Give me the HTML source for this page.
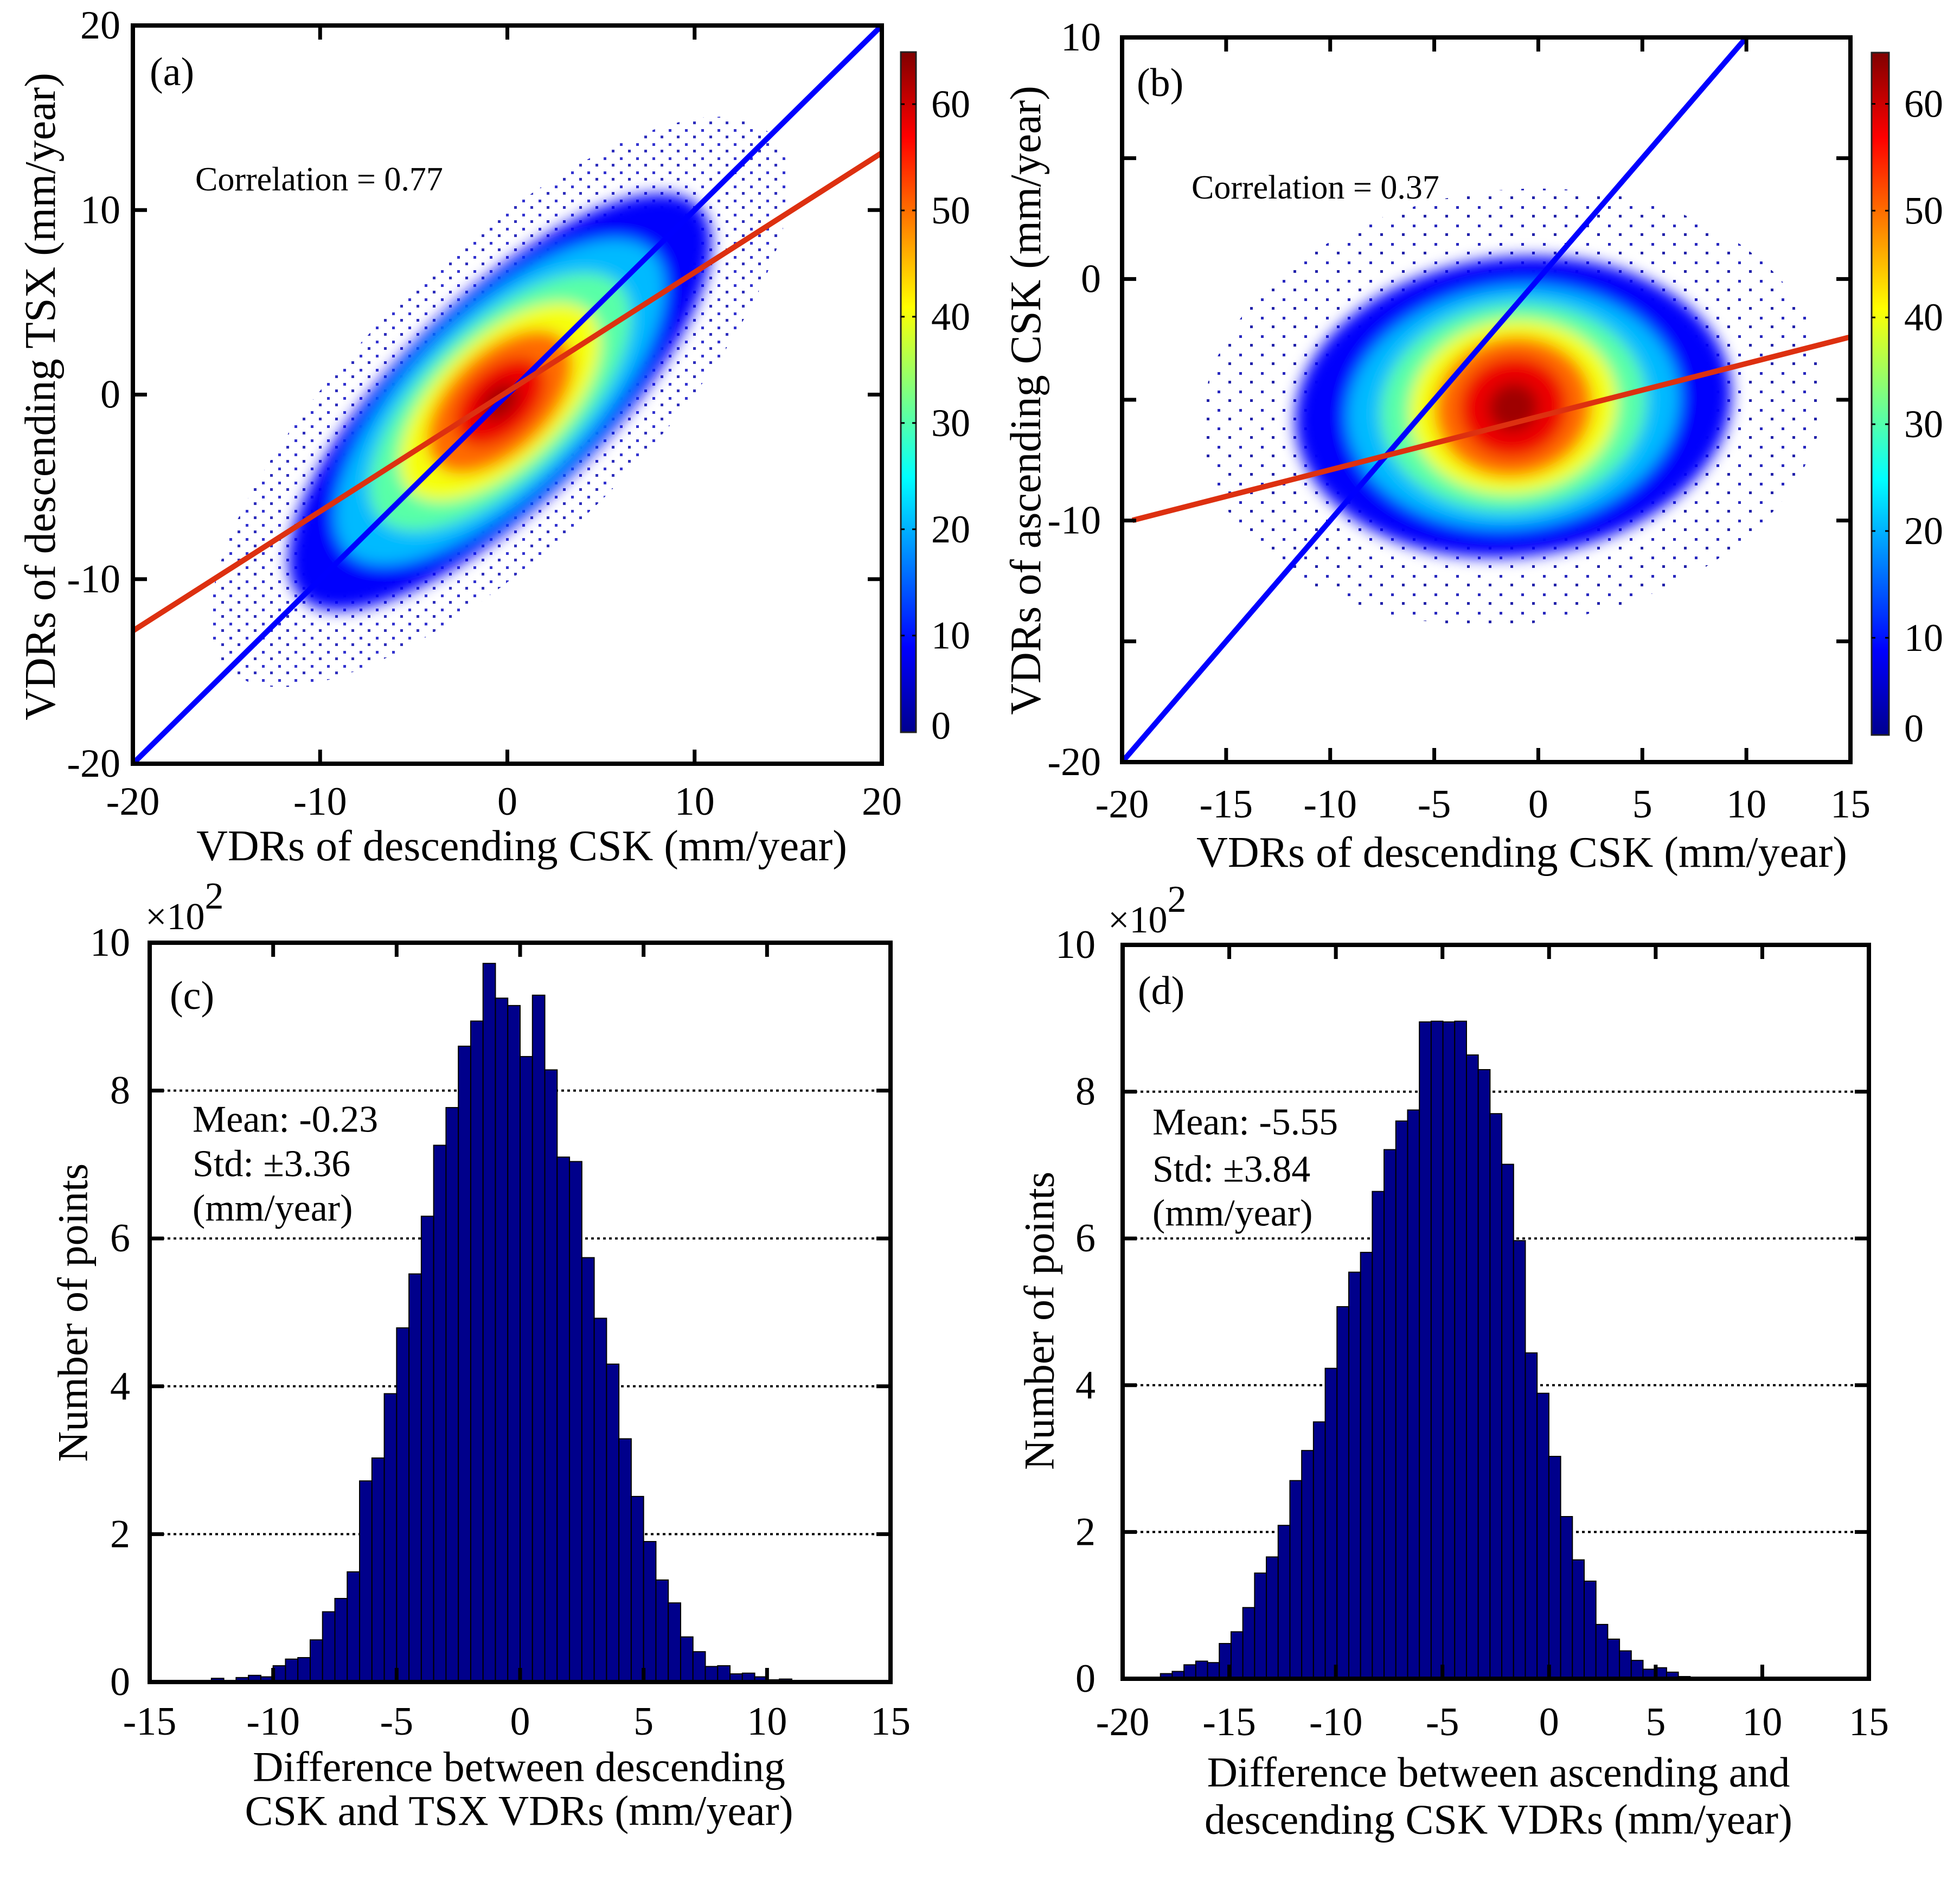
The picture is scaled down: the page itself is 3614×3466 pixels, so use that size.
<!DOCTYPE html>
<html><head><meta charset="utf-8">
<style>
html,body{margin:0;padding:0;background:#fff;}
svg, svg text{font-family:"Liberation Serif","DejaVu Serif",serif;}
</style></head>
<body>
<svg id="fig" xmlns="http://www.w3.org/2000/svg" width="3614" height="3461" viewBox="0 0 3614 3461">
<defs>
<pattern id="dotsA" width="30" height="26" patternUnits="userSpaceOnUse">
<rect x="3" y="4" width="5" height="5" fill="#1010c8"/><rect x="18" y="16" width="5" height="5" fill="#0a0ab0"/>
</pattern>
<pattern id="dotsB" width="40" height="34" patternUnits="userSpaceOnUse">
<rect x="5" y="6" width="5" height="5" fill="#1010b8"/><rect x="25" y="22" width="5" height="5" fill="#0a0aa0"/>
</pattern>
<filter id="blur" x="-20%" y="-20%" width="140%" height="140%"><feGaussianBlur stdDeviation="14"/></filter>
<linearGradient id="jet" x1="0" y1="1" x2="0" y2="0">
<stop offset="0" stop-color="#00008f"/><stop offset="0.125" stop-color="#0000ff"/>
<stop offset="0.375" stop-color="#00ffff"/><stop offset="0.625" stop-color="#ffff00"/>
<stop offset="0.875" stop-color="#ff0000"/><stop offset="1" stop-color="#800000"/>
</linearGradient>
</defs>
</svg>
<script>
// ---------- data ----------
const aLevels = [8, 20, 30, 40, 50, 58, 63];
const aMajor  = [15, 11.5, 9, 6.8, 4.8, 2.9, 1.2];
const aMinor  = [5.5, 4.8, 4.1, 3.4, 2.7, 1.8, 0.8];
const aCenter = [-0.4, -0.4];
const aHalo = [20.5, 7.6];
const aFit = [0.6475, 0.15];
const aCorr = "Correlation = 0.77";
const bLevels = [8, 20, 30, 40, 50, 58, 63];
const bRx = [10.5, 8.0, 6.4, 5.0, 3.8, 2.6, 1.2];
const bRy = [6.2, 5.0, 4.3, 3.6, 2.9, 2.1, 1.0];
const bCenter = [-1.2, -5.3];
const bHalo = [15, 9];
const bFit = [0.22, -5.7];
const bCorr = "Correlation = 0.37";
const cbTicks = [0, 10, 20, 30, 40, 50, 60];
const cStart = -12.5, cWidth = 0.5;
const cCounts = [0.05,0.02,0.06,0.09,0.07,0.22,0.31,0.33,0.57,0.95,1.13,1.49,2.72,3.03,3.90,4.79,5.52,6.30,7.26,7.77,8.60,8.94,9.72,9.25,9.15,8.46,9.29,8.28,7.10,7.04,5.74,4.92,4.30,3.29,2.51,1.90,1.38,1.07,0.61,0.41,0.21,0.22,0.11,0.12,0.07,0.03,0.04,0.02];
const dStart = -19.33, dWidth = 0.552;
const dCounts = [0.01,0.01,0.07,0.10,0.19,0.24,0.22,0.48,0.64,0.97,1.44,1.66,2.09,2.70,3.11,3.50,4.23,5.07,5.54,5.81,6.64,7.21,7.60,7.75,8.95,8.96,8.95,8.96,8.50,8.30,7.70,7.01,5.97,4.44,3.89,3.03,2.21,1.62,1.33,0.74,0.54,0.38,0.25,0.13,0.15,0.09,0.03,0.02];
const histYTicks = [0,2,4,6,8,10];
const cXTicks = [-15,-10,-5,0,5,10,15];
const dXTicks = [-20,-15,-10,-5,0,5,10,15];

// ---------- helpers ----------
const NS = "http://www.w3.org/2000/svg";
const FONT = '"Liberation Serif","DejaVu Serif",serif';
const svg = document.getElementById('fig');
function el(tag, attrs, parent){const e=document.createElementNS(NS,tag);for(const k in attrs)e.setAttribute(k,attrs[k]);(parent||svg).appendChild(e);return e;}
function lin(d0,d1,p0,p1){return v=>p0+(v-d0)*(p1-p0)/(d1-d0);}
function jet(v){
  const r=Math.max(0,Math.min(1,1.5-Math.abs(4*v-3)));
  const g=Math.max(0,Math.min(1,1.5-Math.abs(4*v-2)));
  const b=Math.max(0,Math.min(1,1.5-Math.abs(4*v-1)));
  return `rgb(${Math.round(r*255)},${Math.round(g*255)},${Math.round(b*255)})`;
}
function txt(x,y,s,size,anchor,parent){const t=el('text',{x:x,y:y,'font-size':size,'font-family':FONT,'text-anchor':anchor||'middle','dominant-baseline':'central',fill:'#000'},parent);t.textContent=s;return t;}
function ellipsePath(sx,sy,cx,cy,a,b,ang){
  let d='';const ca=Math.cos(ang),sa=Math.sin(ang);
  for(let i=0;i<=72;i++){const t=i/72*2*Math.PI;const u=a*Math.cos(t),v=b*Math.sin(t);
    const x=cx+u*ca-v*sa,y=cy+u*sa+v*ca;d+=(i?'L':'M')+sx(x).toFixed(1)+','+sy(y).toFixed(1);}
  return d+'Z';
}
function box(g,L,T,R,B){
  const r=el('rect',{x:L,y:T,width:R-L,height:B-T,fill:'none',stroke:'#000','stroke-width':8},g);
  
  
}
function xticks(g,ticks,sx,T,B,labelY,size){
  ticks.forEach(v=>{
    const x=sx(v);
    const t1=el('line',{x1:x,y1:B,x2:x,y2:B-26,stroke:'#000','stroke-width':7},g);
    
    
    el('line',{x1:x,y1:T,x2:x,y2:T+26,stroke:'#000','stroke-width':7},g);
    const l=txt(x,labelY,String(v),size,'middle',g);
    
    
  });
}
function yticks(g,ticks,labels,sy,L,R,labelX,size){
  ticks.forEach(v=>{
    const y=sy(v);
    const t1=el('line',{x1:L,y1:y,x2:L+26,y2:y,stroke:'#000','stroke-width':7},g);
    
    
    el('line',{x1:R,y1:y,x2:R-26,y2:y,stroke:'#000','stroke-width':7},g);
  });
  labels.forEach(v=>{
    const l=txt(labelX,sy(v),String(v),size,'end',g);
    
    
  });
}
function colorbar(g,L,R,T,B,vBot,vTop){
  const sc=lin(vBot,vTop,B,T);
  const r=el('rect',{x:L,y:T,width:R-L,height:B-T,fill:'url(#jet)',stroke:'#222','stroke-width':3},g);
  
  
  cbTicks.forEach(v=>{
    const y = v<vBot ? B : sc(v);
    if(v>=vBot){el('line',{x1:L,y1:y,x2:L+7,y2:y,stroke:'#000','stroke-width':3},g);el('line',{x1:R,y1:y,x2:R-7,y2:y,stroke:'#000','stroke-width':3},g);}
    const l=txt(R+28,v<vBot?B-12:y,String(v),72,'start',g);
    
    
  });
}
function rotText(x,y,s,size,g){const t=el('text',{x:0,y:0,'font-size':size,'font-family':FONT,'text-anchor':'middle','dominant-baseline':'central',transform:`translate(${x},${y}) rotate(-90)`},g);t.textContent=s;return t;}

// ---------- panel (a) ----------
(function(){
  const L=245,R=1626,T=47,B=1408;
  const sx=lin(-20,20,L,R), sy=lin(-20,20,B,T);
  const g=el('g',{});
  
  
  el('clipPath',{id:'clipA'},g).appendChild(el('rect',{x:L,y:T,width:R-L,height:B-T},g));
  const pts=el('g',{'clip-path':'url(#clipA)'},g);
  const halo=el('path',{d:ellipsePath(sx,sy,aCenter[0],aCenter[1],aHalo[0],aHalo[1],Math.PI/4),fill:'url(#dotsA)',opacity:0.85},pts);
  
  
  const dens=el('g',{filter:'url(#blur)'},pts);
  aLevels.forEach((lv,i)=>{
    const p=el('path',{d:ellipsePath(sx,sy,aCenter[0],aCenter[1],aMajor[i],aMinor[i],Math.PI/4),fill:jet(lv/65)},dens);
    
    
  });
  const bl=el('line',{x1:sx(-20),y1:sy(-20),x2:sx(20),y2:sy(20),stroke:'#0000ff','stroke-width':10},g);
  
  
  const rl=el('line',{x1:sx(-20),y1:sy(aFit[0]*-20+aFit[1]),x2:sx(20),y2:sy(aFit[0]*20+aFit[1]),stroke:'#dd3010','stroke-width':10},g);
  
  
  box(g,L,T,R,B);
  xticks(g,[-20,-10,0,10,20],sx,T,B,1478,74);
  yticks(g,[-20,-10,0,10,20],[-20,-10,0,10,20],sy,L,R,222,74);
  const c=txt(360,331,aCorr,62,'start',g);
  
  
  const pl=txt(276,133,'(a)',74,'start',g);
  
  
  const xt=txt(962,1560,'VDRs of descending CSK (mm/year)',80,'middle',g);
  
  
  const yt=rotText(75,731,'VDRs of descending TSX (mm/year)',80,g);
  
  
  colorbar(g,1661,1689,96,1350,0.9,64.9);
})();

// ---------- panel (b) ----------
(function(){
  const L=2069,R=3412,T=69,B=1405;
  const sx=lin(-20,15,L,R), sy=lin(-20,10,B,T);
  const g=el('g',{});
  
  
  el('clipPath',{id:'clipB'},g).appendChild(el('rect',{x:L,y:T,width:R-L,height:B-T},g));
  const pts=el('g',{'clip-path':'url(#clipB)'},g);
  const ang=-Math.atan(0.08);
  const halo=el('path',{d:ellipsePath(sx,sy,bCenter[0],bCenter[1],bHalo[0],bHalo[1],-ang),fill:'url(#dotsB)',opacity:0.9},pts);
  
  
  const dens=el('g',{filter:'url(#blur)'},pts);
  bLevels.forEach((lv,i)=>{
    const p=el('path',{d:ellipsePath(sx,sy,bCenter[0],bCenter[1],bRx[i],bRy[i],-ang),fill:jet(lv/65)},dens);
    
    
  });
  const bl=el('line',{x1:sx(-20),y1:sy(-20),x2:sx(10),y2:sy(10),stroke:'#0000ff','stroke-width':10},g);
  
  
  const rl=el('line',{x1:sx(-19.5),y1:sy(bFit[0]*-19.5+bFit[1]),x2:sx(15),y2:sy(bFit[0]*15+bFit[1]),stroke:'#dd3010','stroke-width':10},g);
  
  
  box(g,L,T,R,B);
  xticks(g,[-20,-15,-10,-5,0,5,10,15],sx,T,B,1483,74);
  yticks(g,[-20,-15,-10,-5,0,5,10],[-20,-10,0,10],sy,L,R,2030,74);
  const c=txt(2197,346,bCorr,62,'start',g);
  
  
  const pl=txt(2096,153,'(b)',74,'start',g);
  
  
  const xt=txt(2806,1572,'VDRs of descending CSK (mm/year)',80,'middle',g);
  
  
  const yt=rotText(1892,738,'VDRs of ascending CSK (mm/year)',80,g);
  
  
  colorbar(g,3451,3483,97,1355,0.9,64.8);
})();

// ---------- histograms ----------
function hist(opts){
  const {L,R,T,B,x0,x1,start,width,counts,xt,labelX,xLabelY,titles,titleX,titleY,ytX,ytY,plX,plY,stats,statX,statY,expX,expY,name}=opts;
  const sx=lin(x0,x1,L,R), sy=lin(0,10,B,T);
  const g=el('g',{});
  
  
  [2,4,6,8].forEach(v=>{
    const gl=el('line',{x1:L,y1:sy(v),x2:R,y2:sy(v),stroke:'#000','stroke-width':4,'stroke-dasharray':'5 6'},g);
    
    
  });
  counts.forEach((c,i)=>{
    const xa=sx(start+i*width), xb=sx(start+(i+1)*width);
    const b=el('rect',{x:xa,y:sy(c),width:xb-xa,height:B-sy(c),fill:'#00008b',stroke:'#000','stroke-width':2},g);
    
    
  });
  box(g,L,T,R,B);
  xticks(g,xt,sx,T,B,xLabelY,74);
  yticks(g,histYTicks,histYTicks,sy,L,R,labelX,74);
  titles.forEach((s,i)=>{
    const t=txt(titleX,titleY[i],s,78,'middle',g);
    
    
  });
  const yt=rotText(ytX,ytY,'Number of points',78,g);
  
  
  const pl=txt(plX,plY,opts.panel,74,'start',g);
  
  
  stats.forEach((s,i)=>{
    const t=txt(statX,statY[i],s,70,'start',g);
    
    
  });
  const e=el('text',{x:expX,y:expY,'font-size':70,'font-family':FONT},g);
  
  
  e.textContent='\u00d710';
  const sup=el('tspan',{dy:-38,'font-size':70},e);
  sup.textContent='2';
}
hist({name:'panel-c-histogram',panel:'(c)',L:276,R:1642,T:1738,B:3101,x0:-15,x1:15,start:cStart,width:cWidth,counts:cCounts,xt:cXTicks,
  labelX:240,xLabelY:3174,titles:['Difference between descending','CSK and TSX VDRs (mm/year)'],titleX:957,titleY:[3257,3338],
  ytX:134,ytY:2420,plX:313,plY:1836,stats:['Mean: -0.23','Std: \u00b13.36','(mm/year)'],statX:355,statY:[2064,2146,2228],expX:268,expY:1713});
hist({name:'panel-d-histogram',panel:'(d)',L:2070,R:3446,T:1742,B:3095,x0:-20,x1:15,start:dStart,width:dWidth,counts:dCounts,xt:dXTicks,
  labelX:2020,xLabelY:3175,titles:['Difference between ascending and','descending CSK VDRs (mm/year)'],titleX:2763,titleY:[3267,3354],
  ytX:1916,ytY:2435,plX:2098,plY:1827,stats:['Mean: -5.55','Std: \u00b13.84','(mm/year)'],statX:2125,statY:[2069,2156,2237],expX:2043,expY:1719});
</script>
</body></html>
